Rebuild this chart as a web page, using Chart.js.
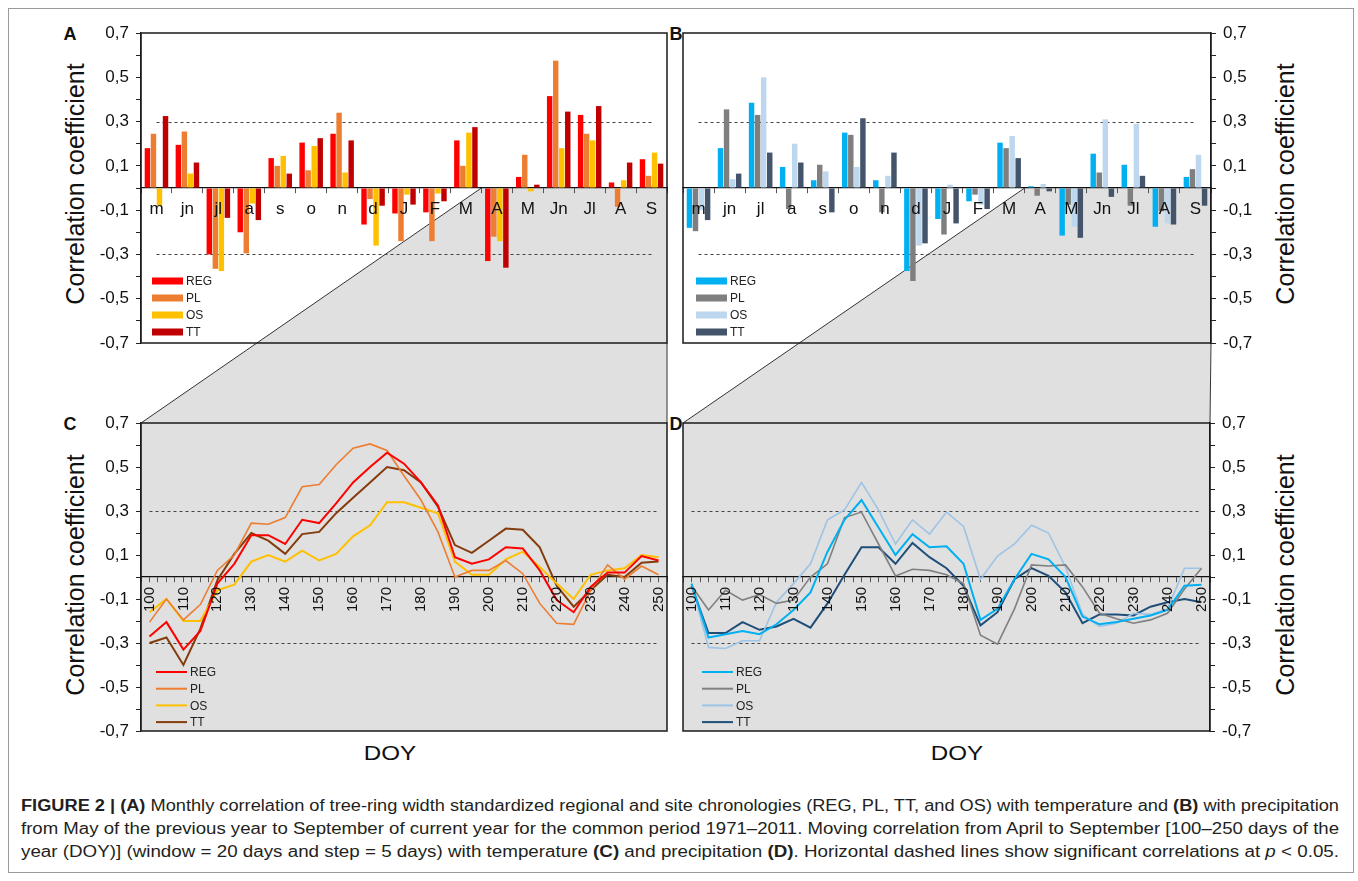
<!DOCTYPE html>
<html>
<head>
<meta charset="utf-8">
<script src="https://cdn.jsdelivr.net/npm/chart.js@4/dist/chart.umd.min.js"></script>
<style>
  body { margin: 0; background: #fff; font-family: "Liberation Sans", Arial, sans-serif; }
  #page { position: relative; width: 1358px; height: 881px; overflow: hidden; }
  canvas { position: absolute; left: 0; top: 0; pointer-events: none; }
  .frame { position: absolute; left: 8px; top: 8px; width: 1346px; height: 865px; border: 1px solid #9a9a9a; box-sizing: border-box; }
  .lbl { position: absolute; white-space: nowrap; color: #111; transform-origin: center center; }
  .ytitle { font-size: 25px; transform: translate(-50%, -50%) rotate(-90deg); }
  .xtitle { font-size: 21px; transform: translate(-50%, -50%) scaleX(1.15); }
  .letter { font-size: 18px; font-weight: bold; transform: translate(-50%, -50%); }
  .cap { position: absolute; left: 21px; white-space: nowrap; font-family: "Liberation Sans Narrow", "Liberation Sans", Arial, sans-serif;
         font-size: 16px; color: #231f20; transform-origin: left center; line-height: 20px; }
</style>
</head>
<body>
<div id="page">
  <div class="frame"></div>

  <div class="lbl letter" style="left:70px;top:34px">A</div>
  <div class="lbl letter" style="left:676px;top:34px">B</div>
  <div class="lbl letter" style="left:70px;top:424px">C</div>
  <div class="lbl letter" style="left:676px;top:424px">D</div>

  <div class="lbl ytitle" style="left:75px;top:184px">Correlation coefficient</div>
  <div class="lbl ytitle" style="left:1285px;top:184px">Correlation coefficient</div>
  <div class="lbl ytitle" style="left:75px;top:575px">Correlation coefficient</div>
  <div class="lbl ytitle" style="left:1285px;top:575px">Correlation coefficient</div>

  <div class="lbl xtitle" style="left:390px;top:364px">Month</div>
  <div class="lbl xtitle" style="left:938px;top:364px">Month</div>
  <div class="lbl xtitle" style="left:390px;top:753px">DOY</div>
  <div class="lbl xtitle" style="left:957px;top:753px">DOY</div>

  <div class="cap" style="top:796px"><b>FIGURE 2 | (A)</b> Monthly correlation of tree-ring width standardized regional and site chronologies (REG, PL, TT, and OS) with temperature and <b>(B)</b> with precipitation</div>
  <div class="cap" style="top:819px">from May of the previous year to September of current year for the common period 1971–2011. Moving correlation from April to September [100–250 days of the</div>
  <div class="cap" style="top:842px">year (DOY)] (window = 20 days and step = 5 days) with temperature <b>(C)</b> and precipitation <b>(D)</b>. Horizontal dashed lines show significant correlations at <i>p</i> &lt; 0.05.</div>

  <canvas id="chartA" width="1358" height="881"></canvas>
  <canvas id="chartB" width="1358" height="881"></canvas>
  <canvas id="chartC" width="1358" height="881"></canvas>
  <canvas id="chartD" width="1358" height="881"></canvas>
</div>

<script>
// ---- data ----
const months = ['m', 'jn', 'jl', 'a', 's', 'o', 'n', 'd', 'J', 'F', 'M', 'A', 'M', 'Jn', 'Jl', 'A', 'S'];
const seriesNames = ['REG', 'PL', 'OS', 'TT'];

// (A) monthly correlation with temperature
const tempREG = [0.18, 0.195, -0.30, -0.20, 0.135, 0.205, 0.245, -0.165, -0.115, -0.11, 0.215, -0.33, 0.05, 0.415, 0.33, 0.025, 0.13];
const tempPL = [0.245, 0.255, -0.365, -0.295, 0.10, 0.08, 0.34, -0.05, -0.24, -0.24, 0.10, -0.22, 0.15, 0.575, 0.245, -0.085, 0.055];
const tempOS = [-0.08, 0.065, -0.375, -0.07, 0.145, 0.19, 0.07, -0.26, -0.03, -0.025, 0.25, -0.24, -0.015, 0.18, 0.215, 0.035, 0.16];
const tempTT = [0.325, 0.115, -0.135, -0.145, 0.065, 0.225, 0.215, -0.08, -0.075, -0.06, 0.275, -0.36, 0.015, 0.345, 0.37, 0.115, 0.11];

// (B) monthly correlation with precipitation
const precREG = [-0.18, 0.18, 0.385, 0.095, 0.035, 0.25, 0.035, -0.375, -0.14, -0.06, 0.205, 0.008, -0.215, 0.155, 0.105, -0.175, 0.05];
const precPL = [-0.195, 0.355, 0.33, -0.095, 0.105, 0.24, -0.11, -0.42, -0.21, -0.03, 0.18, -0.035, -0.075, 0.07, -0.08, -0.105, 0.085];
const precOS = [-0.10, 0.04, 0.50, 0.20, 0.075, 0.095, 0.055, -0.26, 0.015, -0.075, 0.235, 0.018, -0.175, 0.31, 0.29, -0.16, 0.15];
const precTT = [-0.145, 0.065, 0.16, 0.115, -0.11, 0.315, 0.16, -0.25, -0.16, -0.095, 0.135, -0.015, -0.225, -0.04, 0.055, -0.165, -0.08];

// (C)/(D) moving correlation, day of year
const doy = [100, 105, 110, 115, 120, 125, 130, 135, 140, 145, 150, 155, 160, 165, 170, 175, 180, 185, 190, 195, 200, 205, 210, 215, 220, 225, 230, 235, 240, 245, 250];

const dayTempREG = [-0.27, -0.205, -0.33, -0.245, -0.03, 0.06, 0.19, 0.19, 0.15, 0.26, 0.245, 0.335, 0.43, 0.50, 0.565, 0.515, 0.43, 0.325, 0.09, 0.06, 0.08, 0.135, 0.13, 0.03, -0.105, -0.16, -0.045, 0.02, 0.02, 0.095, 0.075];
const dayTempPL = [-0.205, -0.10, -0.195, -0.125, 0.03, 0.10, 0.245, 0.24, 0.27, 0.41, 0.42, 0.51, 0.585, 0.605, 0.575, 0.46, 0.35, 0.205, 0.0, 0.03, 0.03, 0.075, 0.015, -0.12, -0.21, -0.215, -0.06, 0.055, -0.01, 0.05, 0.01];
const dayTempOS = [-0.16, -0.10, -0.20, -0.20, -0.06, -0.035, 0.07, 0.10, 0.07, 0.12, 0.075, 0.105, 0.185, 0.235, 0.34, 0.34, 0.315, 0.29, 0.07, 0.01, 0.01, 0.08, 0.115, 0.045, -0.03, -0.10, 0.01, 0.03, 0.04, 0.10, 0.09];
const dayTempTT = [-0.30, -0.275, -0.40, -0.235, -0.015, 0.105, 0.20, 0.165, 0.105, 0.195, 0.205, 0.29, 0.36, 0.43, 0.50, 0.485, 0.43, 0.32, 0.145, 0.11, 0.165, 0.22, 0.215, 0.135, -0.04, -0.135, -0.06, 0.01, 0.0, 0.065, 0.07];

const dayPrecREG = [-0.03, -0.275, -0.26, -0.245, -0.26, -0.215, -0.15, -0.07, 0.115, 0.26, 0.35, 0.225, 0.10, 0.195, 0.135, 0.14, 0.06, -0.195, -0.145, -0.01, 0.105, 0.08, 0.0, -0.18, -0.215, -0.205, -0.19, -0.175, -0.15, -0.04, -0.035];
const dayPrecPL = [-0.04, -0.15, -0.06, -0.105, -0.08, -0.12, -0.105, 0.0, 0.06, 0.27, 0.295, 0.15, 0.005, 0.035, 0.03, 0.01, -0.03, -0.265, -0.305, -0.145, 0.055, 0.05, 0.055, -0.045, -0.165, -0.19, -0.21, -0.195, -0.165, -0.055, 0.04];
const dayPrecOS = [-0.03, -0.32, -0.325, -0.29, -0.29, -0.115, -0.03, 0.06, 0.26, 0.305, 0.43, 0.305, 0.15, 0.26, 0.195, 0.295, 0.23, -0.01, 0.095, 0.15, 0.235, 0.20, 0.045, -0.17, -0.225, -0.21, -0.165, -0.17, -0.145, 0.04, 0.04];
const dayPrecTT = [-0.04, -0.255, -0.255, -0.205, -0.24, -0.225, -0.19, -0.23, -0.12, 0.01, 0.135, 0.135, 0.06, 0.155, 0.09, 0.04, -0.04, -0.22, -0.16, -0.01, 0.04, 0.005, -0.07, -0.21, -0.17, -0.17, -0.175, -0.135, -0.115, -0.10, -0.115];

const sigLevels = [0.3, -0.3];
const yTicks = { min: -0.7, max: 0.7, step: 0.1 };

const warmColors = ['#ff0000', '#ed7d31', '#ffc000', '#c00000'];
const warmLineColors = ['#ff0000', '#ed7d31', '#ffc000', '#843c0c'];
const coolColors = ['#00b0f0', '#7f7f7f', '#bdd7ee', '#44546a'];
const coolLineColors = ['#00b0f0', '#808080', '#9dc3e6', '#1f4e79'];

Chart.defaults.font.family = '"Liberation Sans", Arial, sans-serif';
Chart.defaults.color = '#111';

// background, zoom wedge, dashed lines, frame and the small legend
const deco = {
  id: 'deco',
  beforeDraw(chart, args, o) {
    const ctx = chart.ctx, a = chart.chartArea;
    const xs = chart.scales.x, ys = chart.scales.y;
    ctx.save();
    if (o.bg) {
      ctx.fillStyle = o.bg;
      ctx.fillRect(a.left, a.top, a.width, a.height);
    }
    if (o.zoomTo) {
      const t = o.zoomTo.chartArea;
      const xb = (xs.getPixelForValue(o.zoomFrom - 1) + xs.getPixelForValue(o.zoomFrom)) / 2;
      const y0 = ys.getPixelForValue(0);
      ctx.fillStyle = '#e0e0e0';
      ctx.beginPath();
      ctx.moveTo(xb, y0);
      ctx.lineTo(a.right, y0);
      ctx.lineTo(t.right, t.top);
      ctx.lineTo(t.left, t.top);
      ctx.closePath();
      ctx.fill();
      ctx.strokeStyle = '#333';
      ctx.lineWidth = 1;
      ctx.beginPath();
      ctx.moveTo(xb, y0);
      ctx.lineTo(t.left, t.top);
      ctx.moveTo(a.right, a.bottom);
      ctx.lineTo(t.right, t.top);
      ctx.stroke();
    }
    const x1 = xs.getPixelForValue(o.first), x2 = xs.getPixelForValue(o.last);
    ctx.setLineDash([3, 3]);
    ctx.strokeStyle = '#444';
    ctx.lineWidth = 1;
    sigLevels.forEach(v => {
      const py = Math.round(ys.getPixelForValue(v)) + 0.5;
      ctx.beginPath();
      ctx.moveTo(x1, py);
      ctx.lineTo(x2, py);
      ctx.stroke();
    });
    ctx.restore();
  },
  afterDraw(chart, args, o) {
    const ctx = chart.ctx, a = chart.chartArea;
    ctx.save();
    ctx.strokeStyle = '#1a1a1a';
    ctx.lineWidth = 1.5;
    ctx.strokeRect(a.left, a.top, a.width, a.height);

    const L = o.legend;
    ctx.font = '12px "Liberation Sans", Arial, sans-serif';
    ctx.textBaseline = 'middle';
    chart.data.datasets.forEach((ds, i) => {
      const lx = a.left + L.dx;
      const ly = a.bottom - L.dy + i * L.step;
      if (L.kind === 'bar') {
        ctx.fillStyle = ds.backgroundColor;
        ctx.fillRect(lx, ly - 3.5, 31, 7);
      } else {
        ctx.strokeStyle = ds.borderColor;
        ctx.lineWidth = 2;
        ctx.beginPath();
        ctx.moveTo(lx, ly);
        ctx.lineTo(lx + 31, ly);
        ctx.stroke();
      }
      ctx.fillStyle = '#222';
      ctx.fillText(ds.label, lx + 34, ly + 1);
    });
    ctx.restore();
  }
};

function yAxis(side) {
  return {
    position: side,
    min: yTicks.min,
    max: yTicks.max,
    afterFit: s => { s.width = 60; },
    border: { color: '#222', width: 1.2 },
    grid: { drawOnChartArea: false, tickLength: 5, color: '#222' },
    ticks: {
      stepSize: yTicks.step,
      maxTicksLimit: 30,
      autoSkip: false,
      padding: 7,
      color: '#111',
      font: { size: 17 },
      callback: v => Math.round(v * 10) % 2 ? v.toFixed(1).replace('.', ',') : ''
    }
  };
}

function monthAxis() {
  return {
    type: 'category',
    position: { y: 0 },
    offset: true,
    border: { color: '#111', width: 1.2 },
    grid: { drawOnChartArea: false, offset: true, tickLength: 5, color: '#555' },
    ticks: { z: 1, autoSkip: false, maxRotation: 0, minRotation: 0, padding: 6, color: '#111', font: { size: 17 } }
  };
}

function doyAxis() {
  return {
    type: 'linear',
    position: { y: 0 },
    min: doy[0] - 2.5,
    max: doy[doy.length - 1] + 2.5,
    border: { color: '#111', width: 1.2 },
    grid: { drawOnChartArea: false, tickLength: 5, color: '#555' },
    ticks: {
      z: 1,
      stepSize: 2.5,
      maxTicksLimit: 100,
      autoSkip: false,
      minRotation: 90,
      maxRotation: 90,
      padding: 5,
      color: '#111',
      font: { size: 15 },
      callback: v => Math.round(v * 10) % 100 === 0 ? String(Math.round(v)) : ''
    }
  };
}

function barSets(values, colors) {
  return values.map((vals, i) => ({
    label: seriesNames[i],
    data: vals,
    backgroundColor: colors[i],
    categoryPercentage: 0.78,
    barPercentage: 0.9
  }));
}

function lineSets(values, colors, widths) {
  return values.map((vals, i) => ({
    label: seriesNames[i],
    data: vals,
    borderColor: colors[i],
    backgroundColor: colors[i],
    borderWidth: widths[i],
    pointRadius: 0,
    tension: 0,
    fill: false
  }));
}

function baseOptions(padding, yside, decoOpts, xAxis) {
  return {
    responsive: false,
    devicePixelRatio: 1,
    animation: false,
    layout: { padding: padding },
    plugins: { legend: { display: false }, tooltip: { enabled: false }, deco: decoOpts },
    scales: { x: xAxis, y: yAxis(yside) }
  };
}

const chartC = new Chart(document.getElementById('chartC'), {
  type: 'line',
  data: { labels: doy, datasets: lineSets([dayTempREG, dayTempPL, dayTempOS, dayTempTT], warmLineColors, [2, 1.6, 2, 2]) },
  options: baseOptions({ left: 81, right: 691, top: 423, bottom: 150 }, 'left',
    { bg: '#e0e0e0', first: doy[0], last: doy[doy.length - 1], legend: { kind: 'line', dx: 15, dy: 59, step: 16.7 } }, doyAxis()),
  plugins: [deco]
});

const chartD = new Chart(document.getElementById('chartD'), {
  type: 'line',
  data: { labels: doy, datasets: lineSets([dayPrecREG, dayPrecPL, dayPrecOS, dayPrecTT], coolLineColors, [2, 1.6, 1.6, 2]) },
  options: baseOptions({ left: 683, right: 88, top: 423, bottom: 150 }, 'right',
    { bg: '#e0e0e0', first: doy[0], last: doy[doy.length - 1], legend: { kind: 'line', dx: 19, dy: 59, step: 16.7 } }, doyAxis()),
  plugins: [deco]
});

const chartA = new Chart(document.getElementById('chartA'), {
  type: 'bar',
  data: { labels: months, datasets: barSets([tempREG, tempPL, tempOS, tempTT], warmColors) },
  options: baseOptions({ left: 81, right: 691, top: 33, bottom: 538 }, 'left',
    { zoomTo: chartC, zoomFrom: 11, first: 0, last: months.length - 1, legend: { kind: 'bar', dx: 11, dy: 62, step: 17 } }, monthAxis()),
  plugins: [deco]
});

const chartB = new Chart(document.getElementById('chartB'), {
  type: 'bar',
  data: { labels: months, datasets: barSets([precREG, precPL, precOS, precTT], coolColors) },
  options: baseOptions({ left: 683, right: 87, top: 33, bottom: 538 }, 'right',
    { zoomTo: chartD, zoomFrom: 11, first: 0, last: months.length - 1, legend: { kind: 'bar', dx: 13, dy: 62, step: 17 } }, monthAxis()),
  plugins: [deco]
});

// squeeze caption lines to the printed width
document.querySelectorAll('.cap').forEach(el => {
  const w = el.getBoundingClientRect().width;
  el.style.transform = 'scaleX(' + (1318 / w) + ')';
});
</script>
</body>
</html>
